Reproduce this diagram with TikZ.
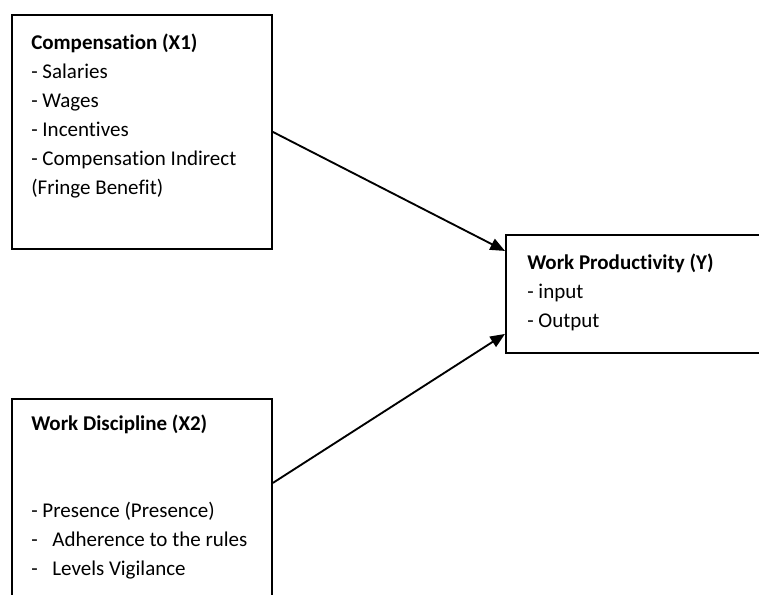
\documentclass[tikz,border=0pt]{standalone}
\usepackage{fontspec}
\setmainfont[Ligatures=NoCommon]{Carlito}
\usetikzlibrary{arrows.meta,positioning,calc}

\begin{document}
\begin{tikzpicture}[
  x=0.75pt,y=-0.75pt,
  font=\fontsize{15.75}{21.75}\selectfont,
  >={Triangle[length=11pt,width=9pt]},
  box/.style={draw,line width=1.4pt,minimum width=195pt,anchor=north west,inner sep=0pt},
  txt/.style={anchor=north west,inner sep=0pt,align=left},
  link/.style={->,line width=1.4pt}
]
% canvas (right and bottom boxes run past the edge)
\clip (0,0) rectangle (759,595);

% boxes
\node[box,minimum height=175.5pt] (comp) at (11,14) {};
\node[box,minimum height=88.5pt] (prod) at (505,234) {};
\node[box,minimum height=175.5pt] (disc) at (11,398) {};

% texts
\node[txt] (comptxt) at ([xshift=15pt,yshift=-15pt]comp.north west)
  {\textbf{Compensation (X1)}\\- Salaries\\- Wages\\- Incentives\\- Compensation Indirect\\(Fringe Benefit)};
\node[txt] (prodtxt) at ([xshift=16.5pt,yshift=-15pt]prod.north west)
  {\textbf{Work Productivity (Y)}\\- input\\- Output};
\node[txt] (disctxt) at ([xshift=15pt,yshift=-12.75pt]disc.north west)
  {\textbf{Work Discipline (X2)}\\[43.5pt]- Presence (Presence)\\-\hspace{11pt}Adherence to the rules\\-\hspace{11pt}Levels Vigilance};

% connectors
\draw[link] (comp.east) -- ([yshift=32.25pt]prod.west);
\draw[link] ([yshift=24.75pt]disc.east) -- ([yshift=-30pt]prod.west);
\end{tikzpicture}
\end{document}
